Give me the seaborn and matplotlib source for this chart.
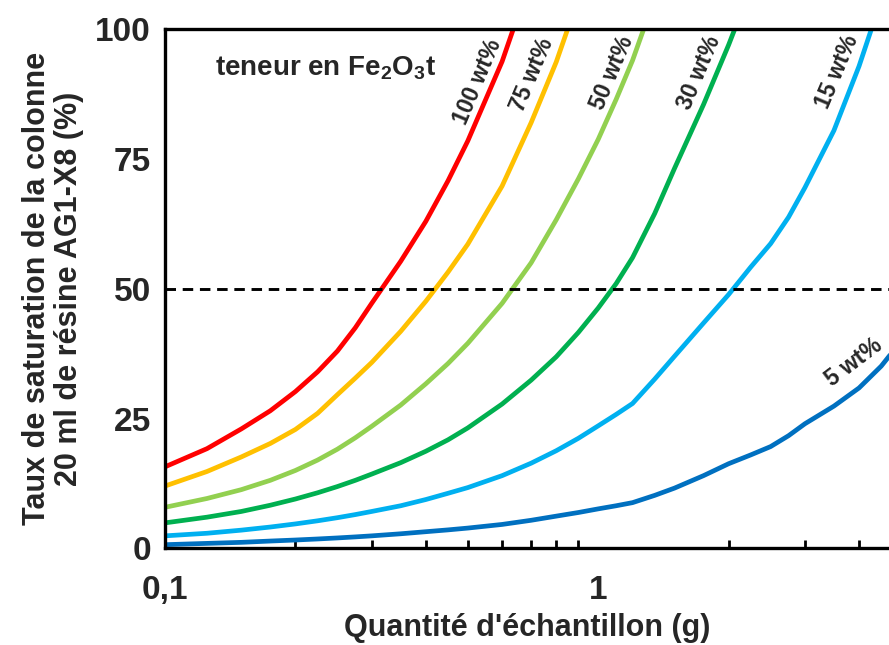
import numpy as np
import pandas as pd
import seaborn as sns
import matplotlib.pyplot as plt
from matplotlib.ticker import FixedLocator, LogLocator, NullFormatter

# sample mass (g) and column saturation (%)
masse = [0.1, 0.125, 0.15, 0.175, 0.2, 0.225, 0.25, 0.275, 0.3, 0.35, 0.4,
         0.45, 0.5, 0.6, 0.7, 0.8, 0.9, 1.0, 1.1, 1.2, 1.35, 1.5, 1.75,
         2.0, 2.25, 2.5, 2.75, 3.0, 3.5, 4.0, 4.5, 5.0]

sat_100 = [15.7, 19.2, 23.0, 26.5, 30.2, 34.0, 38.0, 42.5, 47.2, 55.3, 63.0,
           70.8, 78.5, 93.8, 110.0]
sat_75 = [12.0, 14.8, 17.6, 20.2, 22.9, 26.0, 29.6, 32.8, 35.8, 41.8, 47.6,
          53.2, 58.6, 69.8, 82.0, 93.7, 106.0]
sat_50 = [7.9, 9.6, 11.3, 13.1, 15.0, 17.0, 19.1, 21.3, 23.5, 27.6, 31.7,
          35.6, 39.5, 47.2, 55.0, 63.3, 71.2, 78.8, 86.5, 94.0, 106.0]
sat_30 = [4.9, 6.0, 7.1, 8.3, 9.5, 10.7, 11.9, 13.1, 14.3, 16.5, 18.7,
          20.9, 23.2, 27.8, 32.4, 36.9, 41.6, 46.3, 51.0, 56.0, 64.5, 73.2,
          85.5, 97.0, 108.0]
sat_15 = [2.4, 2.9, 3.5, 4.1, 4.7, 5.3, 5.9, 6.5, 7.1, 8.2, 9.4,
          10.6, 11.7, 14.0, 16.4, 18.8, 21.2, 23.6, 25.8, 27.9, 32.6, 37.0,
          43.4, 48.9, 54.2, 58.7, 63.8, 69.5, 80.5, 92.9, 105.7]
sat_5 = [0.7, 0.95, 1.15, 1.4, 1.6, 1.8, 2.0, 2.2, 2.4, 2.8, 3.2,
         3.55, 3.9, 4.6, 5.4, 6.2, 6.9, 7.6, 8.2, 8.8, 10.2, 11.6,
         14.0, 16.3, 18.0, 19.6, 21.7, 24.0, 27.4, 30.9, 35.1, 39.9]

teneurs = ["100 wt%", "75 wt%", "50 wt%", "30 wt%", "15 wt%", "5 wt%"]
couleurs = ["#FF0000", "#FFC000", "#92D050", "#00B050", "#00B0F0", "#0070C0"]

# label positions (g, %) and angles
lab_x = [0.528, 0.703, 1.076, 1.71, 3.56, 3.9]
lab_y = [89.9, 91.2, 91.6, 91.6, 91.8, 35.8]
lab_rot = [67, 67, 67, 67, 67, 37]

series = [sat_100, sat_75, sat_50, sat_30, sat_15, sat_5]
rows = []
for nom, vals in zip(teneurs, series):
    for m, v in zip(masse, vals):
        rows.append({"masse": m, "saturation": v, "teneur": nom})
df = pd.DataFrame(rows)

sns.set_theme(style="white")
plt.rcParams['font.family'] = ['Liberation Sans', 'DejaVu Sans']
plt.rcParams['font.weight'] = 'bold'
plt.rcParams['mathtext.default'] = 'regular'

fig = plt.figure(figsize=(8.89, 6.45), dpi=100)
ax = fig.add_axes([0.1856, 0.1499, 0.8144, 0.8047])

sns.lineplot(data=df, x="masse", y="saturation", hue="teneur",
             hue_order=teneurs, palette=couleurs, linewidth=3.4,
             legend=False, ax=ax)

ax.axhline(50, color="black", linewidth=2.1, linestyle=(0, (3.6, 2.3)))

ax.set_xscale("log")
ax.set_xlim(0.1, 4.69)
ax.set_ylim(0, 100)

ax.xaxis.set_major_locator(FixedLocator([0.1, 1]))
ax.set_xticklabels(["0,1", "1"])
ax.xaxis.set_minor_locator(LogLocator(base=10, subs=np.arange(2, 10)))
ax.xaxis.set_minor_formatter(NullFormatter())
ax.set_yticks([0, 25, 50, 75, 100])

ax.tick_params(axis="both", which="major", direction="in", length=8, width=2,
               labelsize=24, color="black")
ax.tick_params(axis="x", which="major", pad=19)
ax.tick_params(axis="y", which="major", pad=10)
ax.tick_params(axis="x", which="minor", direction="in", length=6, width=2,
               bottom=True, color="black")

for s in ["left", "bottom", "top"]:
    ax.spines[s].set_linewidth(2.4)
    ax.spines[s].set_color("black")
ax.spines["right"].set_visible(False)

ax.set_xlabel("Quantité d'échantillon (g)", fontsize=22, fontweight="bold",
              labelpad=5)
ax.set_ylabel("Taux de saturation de la colonne\n20 ml de résine AG1-X8 (%)",
              fontsize=22, fontweight="bold", labelpad=8, linespacing=1.1)

ax.text(0.1304, 92.5, "teneur en Fe$_2$O$_3$t", fontsize=20,
        fontweight="bold", ha="left", va="center")

# wt% labels along the curves
for t, x, y, r in zip(teneurs, lab_x, lab_y, lab_rot):
    ax.text(x, y, t, fontsize=16.5, fontweight="bold", fontstyle="normal",
            rotation=r, rotation_mode="anchor", ha="center", va="center")

fig.savefig("out.png", dpi=100)
